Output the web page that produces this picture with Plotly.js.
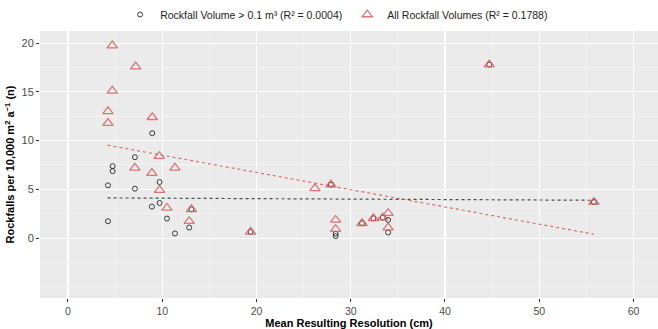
<!DOCTYPE html>
<html>
<head>
<meta charset="utf-8">
<script src="https://cdn.plot.ly/plotly-3.0.1.min.js"></script>
<style>html,body{margin:0;padding:0;background:#fff;}#chart{width:658px;height:329px;}</style>
</head>
<body>
<div id="chart"></div>
<script>
// Rockfall Volume > 0.1 m3 (circles)
const bigX = [4.24, 4.24, 4.74, 4.74, 7.1, 7.1, 8.94, 9.72, 8.9, 9.72, 10.5, 11.35, 12.86, 13.1, 19.37, 27.9, 28.4, 28.4, 31.2, 32.4, 33.4, 33.97, 33.97, 44.7, 55.8];
const bigY = [1.73, 5.41, 7.38, 6.87, 8.3, 5.07, 10.76, 5.75, 3.23, 3.6, 2.0, 0.47, 1.08, 2.95, 0.63, 5.48, 0.45, 0.2, 1.52, 2.03, 2.1, 1.86, 0.57, 17.8, 3.7];
// All Rockfall Volumes (triangles)
const allX = [4.7, 7.18, 4.7, 4.24, 4.24, 8.94, 9.68, 7.1, 11.35, 8.9, 9.72, 10.5, 13.1, 12.86, 19.37, 26.2, 27.9, 28.4, 28.4, 31.2, 32.4, 33.4, 33.97, 33.97, 44.7, 55.8];
const allY = [19.75, 17.6, 15.1, 13.0, 11.8, 12.4, 8.4, 7.2, 7.2, 6.67, 4.93, 3.09, 2.95, 1.73, 0.63, 5.1, 5.48, 1.86, 0.91, 1.52, 2.03, 2.1, 2.55, 1.08, 17.8, 3.7];
// Linear trend lines (endpoints)
const trendX = [4.2, 55.8];
const trendBigY = [4.12, 3.88];
const trendAllY = [9.53, 0.4];
// Labels
const bigName = 'Rockfall Volume > 0.1 m³ (R² = 0.0004)';
const allName = 'All Rockfall Volumes (R² = 0.1788)';
const xTickVals = [0, 10, 20, 30, 40, 50, 60];
const yTickVals = [0, 5, 10, 15, 20];

const red = 'rgba(214,96,96,0.85)';
const dark = 'rgba(40,40,40,0.9)';

const traces = [
  {x: trendX, y: trendBigY, mode: 'lines', line: {color: 'rgba(60,60,60,0.9)', width: 1.2, dash: 'dot'}, showlegend: false, hoverinfo: 'skip'},
  {x: trendX, y: trendAllY, mode: 'lines', line: {color: 'rgba(214,96,96,0.9)', width: 1.2, dash: 'dot'}, showlegend: false, hoverinfo: 'skip'},
  {x: bigX, y: bigY, mode: 'markers', name: bigName, marker: {symbol: 'circle-open', size: 5, color: dark, line: {width: 1, color: dark}}},
  {x: allX, y: allY, mode: 'markers', name: allName, marker: {symbol: 'triangle-up-open', size: 9, color: red, line: {width: 1.3, color: red}}}
];

const fam = 'Liberation Sans, Arial, sans-serif';
const layout = {
  width: 658, height: 329,
  margin: {l: 40, r: 0, t: 31, b: 31, pad: 0},
  paper_bgcolor: '#ffffff',
  plot_bgcolor: '#ebebeb',
  font: {family: fam, size: 11, color: '#4d4d4d'},
  showlegend: true,
  legend: {orientation: 'h', x: 0.48, xanchor: 'center', y: 1.0, yref: 'container', yanchor: 'top',
           font: {family: fam, size: 10.5, color: '#222'}, itemwidth: 30, tracegroupgap: 0},
  xaxis: {
    range: [-2.97, 62.6], tickmode: 'array', tickvals: xTickVals,
    showgrid: true, gridcolor: '#ffffff', gridwidth: 1.1,
    minor: {tickmode: 'linear', tick0: 5, dtick: 10, showgrid: true, gridcolor: '#f5f5f5', gridwidth: 0.6},
    zeroline: false, showline: false,
    ticks: 'outside', ticklen: 3, tickcolor: '#333', tickwidth: 1,
    tickfont: {family: fam, size: 10.5, color: '#4d4d4d'},
    title: {text: 'Mean Resulting Resolution (cm)', font: {family: fam, size: 11, color: '#000', weight: 'bold'}, standoff: 2}
  },
  yaxis: {
    range: [-6.15, 21.25], tickmode: 'array', tickvals: yTickVals,
    showgrid: true, gridcolor: '#ffffff', gridwidth: 1.1,
    minor: {tickmode: 'linear', tick0: 0, dtick: 2.5, showgrid: true, gridcolor: '#f7f7f7', gridwidth: 0.7},
    zeroline: false, showline: false,
    ticks: 'outside', ticklen: 3, tickcolor: '#333', tickwidth: 1,
    tickfont: {family: fam, size: 11, color: '#4d4d4d'},
    title: {text: 'Rockfalls per 10,000 m<sup>2</sup> a<sup>\u22121</sup> (n)', font: {family: fam, size: 11, color: '#000', weight: 'bold'}, standoff: 4}
  }
};

Plotly.newPlot('chart', traces, layout, {displayModeBar: false, staticPlot: true});
</script>
</body>
</html>
